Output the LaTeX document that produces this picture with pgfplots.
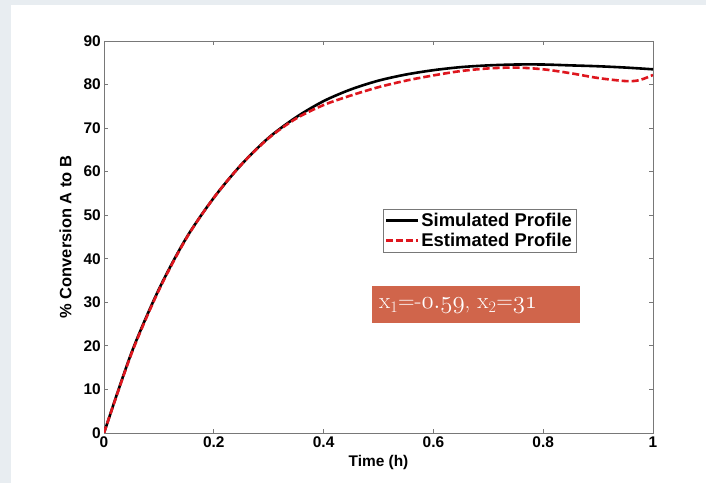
\documentclass[border=0pt]{standalone}
\usepackage{pgfplots}
\pgfplotsset{compat=1.18}
\usepackage{fontspec}
\setmainfont{Liberation Sans}
\newfontfamily\boxfont{Latin Modern Roman}
\definecolor{bggray}{RGB}{232,237,241}
\definecolor{boxorange}{RGB}{208,101,75}
\definecolor{estred}{RGB}{222,22,30}
\definecolor{axgray}{RGB}{120,120,120}
\begin{document}
\begin{tikzpicture}[x=1bp,y=1bp]
\useasboundingbox (0,0) rectangle (706,483);
\fill[bggray] (0,0) rectangle (706,483);
\fill[white] (11,0) rectangle (706,478);
\begin{axis}[
  at={(104bp,50bp)}, anchor=south west,
  scale only axis, width=549bp, height=392bp,
  xmin=0, xmax=1, ymin=0, ymax=90,
  xtick={0,0.2,0.4,0.6,0.8,1},
  xticklabels={0,0.2,0.4,0.6,0.8,1},
  ytick={0,10,...,90},
  tick align=inside,
  major tick length=4bp,
  axis line style={axgray, line width=0.8bp},
  every tick/.style={axgray, line width=0.8bp},
  /pgf/number format/assume math mode=true,
  tick label style={font=\fontsize{15.5}{18}\selectfont\bfseries},
  yticklabel style={inner sep=2bp, xshift=-1bp},
  xticklabel style={inner sep=2bp, yshift=-2bp},
  xlabel={Time (h)},
  ylabel={\% Conversion A to B},
  every axis x label/.style={at={(axis description cs:0.5,0)}, yshift=-30bp, anchor=center,
     font=\fontsize{15.5}{18}\selectfont\bfseries},
  every axis y label/.style={at={(axis description cs:0,0.5)}, xshift=-38.5bp, rotate=90, anchor=center,
     font=\fontsize{16.5}{18}\selectfont\bfseries},
  legend style={at={(axis description cs:0.86,0.571)}, anchor=north east,
    draw=axgray, inner sep=2bp, row sep=1bp,
    font=\fontsize{18.5}{20}\selectfont\bfseries,
    /tikz/every even column/.append style={column sep=0bp}},
  legend cell align=left,
  legend image code/.code={\draw[#1] (0bp,0bp) -- (32bp,0bp);},
  legend image post style={line width=2.6bp},
]
\addplot[black, line width=2.6bp, smooth, tension=0.5] coordinates {
(0,0) (0.05,18.4) (0.1,33.0) (0.15,44.8) (0.2,54.0) (0.25,61.6) (0.3,67.8)
(0.35,72.5) (0.4,76.2) (0.45,78.9) (0.5,80.9) (0.55,82.3) (0.6,83.3)
(0.65,84.0) (0.7,84.4) (0.75,84.6) (0.8,84.6) (0.85,84.4) (0.9,84.2)
(0.95,83.9) (1.0,83.5)
};
\addlegendentry{Simulated Profile}
\addplot[estred, line width=2.6bp, dash pattern=on 7bp off 3bp, smooth, tension=0.5] coordinates {
(0,0) (0.05,18.2) (0.1,32.8) (0.15,44.7) (0.2,54.0) (0.25,61.6) (0.3,67.7)
(0.35,72.2) (0.4,75.3) (0.45,77.5) (0.5,79.4) (0.55,80.9) (0.6,82.1)
(0.65,83.1) (0.7,83.7) (0.75,83.9) (0.8,83.5) (0.85,82.6) (0.9,81.5)
(0.95,80.8) (0.975,81.0) (1.0,82.2)
};
\addlegendentry{Estimated Profile}
\end{axis}
\fill[boxorange] (372,160) rectangle (580,197);
\node[anchor=west, text=white, inner sep=0pt] at (379,177)
  {\boxfont\fontsize{23}{25}\selectfont x\textsubscript{1}=-$\mathnormal{0.59}$, x\textsubscript{2}=$\mathnormal{31}$};
\end{tikzpicture}
\end{document}
